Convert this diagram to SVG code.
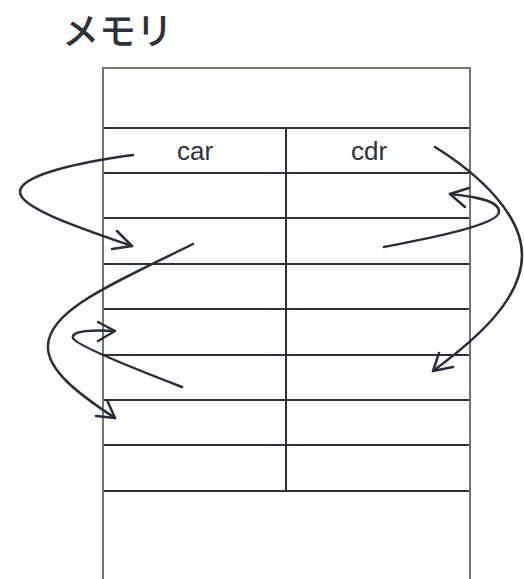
<svg xmlns="http://www.w3.org/2000/svg" width="524" height="579" viewBox="0 0 524 579">
<style>
.grid{stroke:#2e313b;stroke-width:2;fill:none}
.border{stroke:#6d7a6d;stroke-width:2;fill:none}
.lbl{font-family:"Liberation Sans",Arial,sans-serif;font-size:26px;fill:#2e313b;text-anchor:middle}
.title{font-family:"Noto Sans CJK JP","Noto Sans",sans-serif;font-size:37px;font-weight:500;fill:#2e313b}
.arr{stroke:#2b2d38;stroke-width:2.5;fill:none;stroke-linecap:round;stroke-linejoin:round}
</style>
<rect width="524" height="579" fill="#ffffff"/>
<text class="title" x="62" y="45">メモリ</text>
<g id="memory">
<g class="grid">
<line x1="103" y1="128" x2="470" y2="128"/>
<line x1="103" y1="173" x2="470" y2="173"/>
<line x1="103" y1="218" x2="470" y2="218"/>
<line x1="103" y1="264" x2="470" y2="264"/>
<line x1="103" y1="309" x2="470" y2="309"/>
<line x1="103" y1="355" x2="470" y2="355"/>
<line x1="103" y1="400" x2="470" y2="400"/>
<line x1="103" y1="445" x2="470" y2="445"/>
<line x1="103" y1="491" x2="470" y2="491"/>
<line x1="286" y1="128" x2="286" y2="491"/>
</g>
<path class="border" d="M103,590 V68 H470 V590"/>
</g>
<g id="car"><text class="lbl" x="195" y="160">car</text></g>
<g id="cdr"><text class="lbl" x="369" y="160">cdr</text></g>
<g id="connectors" class="arr">
<path d="M133,155 C80,162 20,175 20,192 C20,208 80,228 132,246"/>
<path d="M117,231 L132,246 L112,249"/>
<path d="M193,244 C110,285 50,310 48,345 C46,370 80,395 115,418"/>
<path d="M107,400 L115,418 L96,416"/>
<path d="M182,387 C130,367 75,345 73,338 C71,330 95,330 115,331"/>
<path d="M98,322 L115,331 L98,341"/>
<path d="M435,147 C480,175 522,215 522,255 C522,300 475,340 433,371"/>
<path d="M439,353 L433,371 L453,367"/>
<path d="M384,247 C430,238 498,225 499,212 C500,200 470,196 450,194"/>
<path d="M469,188 L450,194 L465,207"/>
</g>
</svg>
